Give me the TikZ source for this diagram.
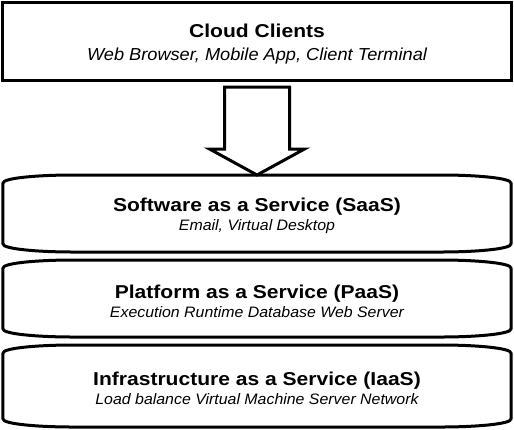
\documentclass[tikz,border=0pt]{standalone}
\usepackage{fontspec}
\setmainfont{Liberation Sans}
\newfontfamily\titlesans[FakeStretch=1.13]{Liberation Sans}
\newfontfamily\subsans[FakeStretch=1.05]{Liberation Sans}
\newcommand\titlefont{\titlesans\upshape\bfseries\fontsize{18.7}{22}\selectfont\rule{0pt}{19bp}}
\newcommand\subfont{\subsans\itshape\fontsize{15.2}{19}\selectfont}
\usetikzlibrary{positioning}
\begin{document}
\begin{tikzpicture}[x=1bp, y=1bp, line width=3bp,
    box/.style={minimum width=508bp, minimum height=77bp, outer sep=0pt,
        align=center, font=\subfont},
    layer/.style={line join=round}]
 \useasboundingbox (0,0) rectangle (514,429);

    % Client box
 \node[box, draw, font=\subsans\itshape\fontsize{17.4}{22.5}\selectfont] (clients) at (257,387.5)
    {{\titlefont Cloud Clients}\\ Web Browser, Mobile App, Client Terminal};

    % Service layers
 \node[box, below=95bp of clients] (saas)
    {{\titlefont Software as a Service (SaaS)}\\ Email, Virtual Desktop};
 \node[box, below=8bp of saas] (paas)
    {{\titlefont Platform as a Service (PaaS)}\\ Execution Runtime Database Web Server};
 \node[box, below=8bp of paas, minimum height=82bp] (iaas)
    {{\titlefont Infrastructure as a Service (IaaS)}\\ Load balance Virtual Machine Server Network};

 \foreach \L in {saas,paas,iaas}
    \draw[layer] ([yshift=-8bp]\L.north west) .. controls +(0,5) and +(-35,0) .. ([xshift=70bp]\L.north west)
        -- ([xshift=-70bp]\L.north east) .. controls +(35,0) and +(0,5) .. ([yshift=-8bp]\L.north east)
        -- ([yshift=8bp]\L.south east) .. controls +(0,-5) and +(35,0) .. ([xshift=-70bp]\L.south east)
        -- ([xshift=70bp]\L.south west) .. controls +(-35,0) and +(0,-5) .. ([yshift=8bp]\L.south west)
        -- cycle;

    % Block arrow
 \draw ([xshift=-32.5bp,yshift=-7bp]clients.south) -- ++(65,0)
    -- ([xshift=32.5bp,yshift=26bp]saas.north) -- ++(15,0)
    -- (saas.north) -- ++(-47.5,26) -- ++(15,0) -- cycle;
\end{tikzpicture}
\end{document}
